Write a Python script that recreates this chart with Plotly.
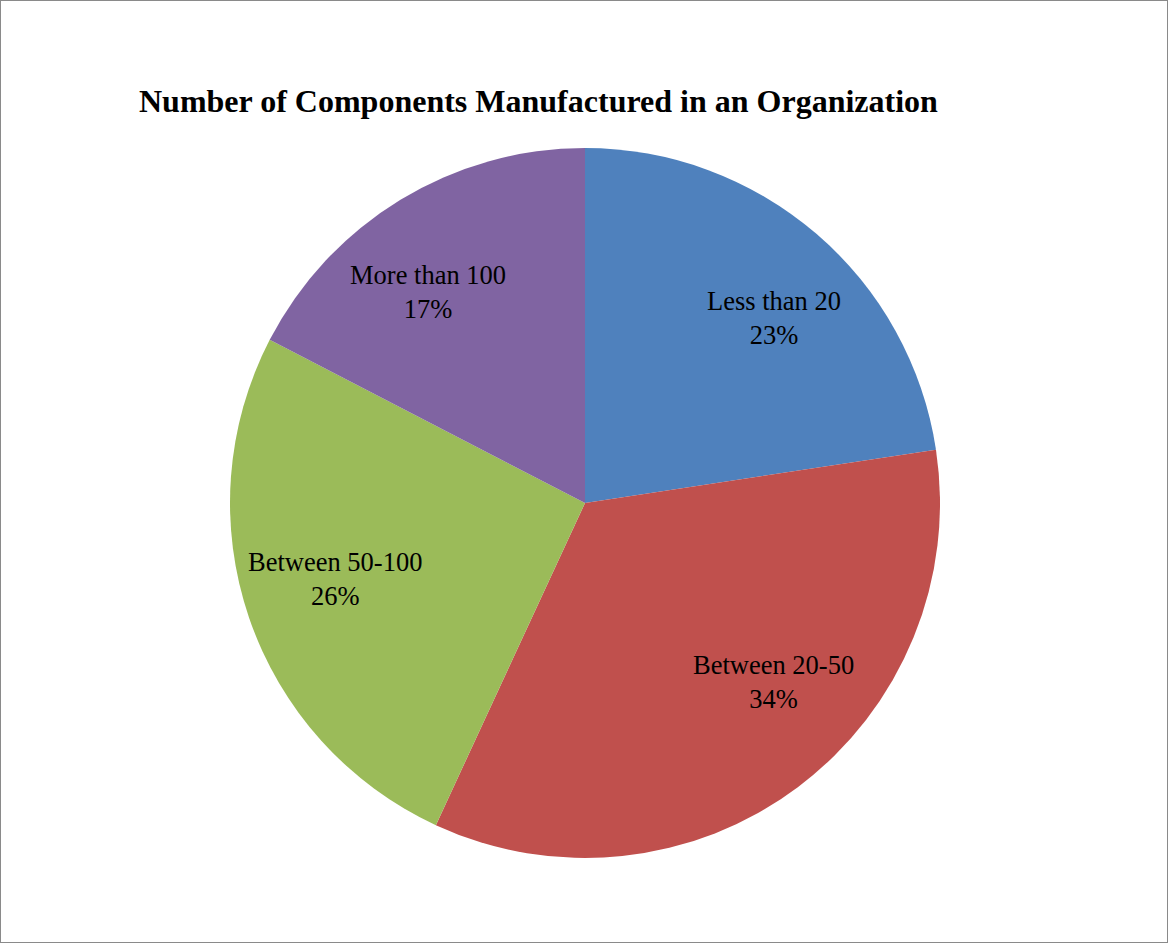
import math
import plotly.graph_objects as go

categories = ["Less than 20", "Between 20-50", "Between 50-100", "More than 100"]
values = [22.6, 34.3, 25.7, 17.4]
colors = ["#4F81BD", "#C0504D", "#9BBB59", "#8064A2"]

W, H = 1168, 943
cx, cy, R = 585, 503, 355
label_r = 0.74
# small pixel nudges of each label's text box (styling, "best fit" placement)
label_nudge = [(18, 14), (31, -31), (-1, -9), (-20, 13)]

fig = go.Figure(go.Pie(
    labels=categories,
    values=values,
    sort=False,
    direction="clockwise",
    rotation=0,
    marker=dict(colors=colors, line=dict(width=0)),
    textinfo="none",
    showlegend=False,
    hoverinfo="label+percent",
    domain=dict(x=[(cx - R) / W, (cx + R) / W], y=[(H - cy - R) / H, (H - cy + R) / H]),
))

total = sum(values)
annotations = []
cum = 0
for (lab, v), (nx, ny) in zip(zip(categories, values), label_nudge):
    mid = (cum + v / 2) / total * 2 * math.pi
    cum += v
    px = cx + label_r * R * math.sin(mid) + nx
    py = cy - label_r * R * math.cos(mid) + ny
    annotations.append(dict(
        x=px / W, y=1 - py / H, xref="paper", yref="paper",
        text=f"{lab}<br>{round(v / total * 100)}%",
        showarrow=False, xanchor="center", yanchor="middle",
        font=dict(family="Liberation Serif", size=26.5, color="black"),
    ))

fig.update_layout(
    width=W, height=H,
    margin=dict(l=0, r=0, t=0, b=0),
    paper_bgcolor="white",
    title=dict(
        text="<b>Number of Components Manufactured in an Organization</b>",
        font=dict(family="Liberation Serif", size=32, color="black"),
        x=139 / W, xanchor="left", y=1 - 101 / H, yanchor="middle",
    ),
    annotations=annotations,
    shapes=[dict(type="rect", xref="paper", yref="paper", x0=0, x1=1, y0=0, y1=1,
                 line=dict(color="#8a8a8a", width=2))],
)

fig.write_html("out.html")
